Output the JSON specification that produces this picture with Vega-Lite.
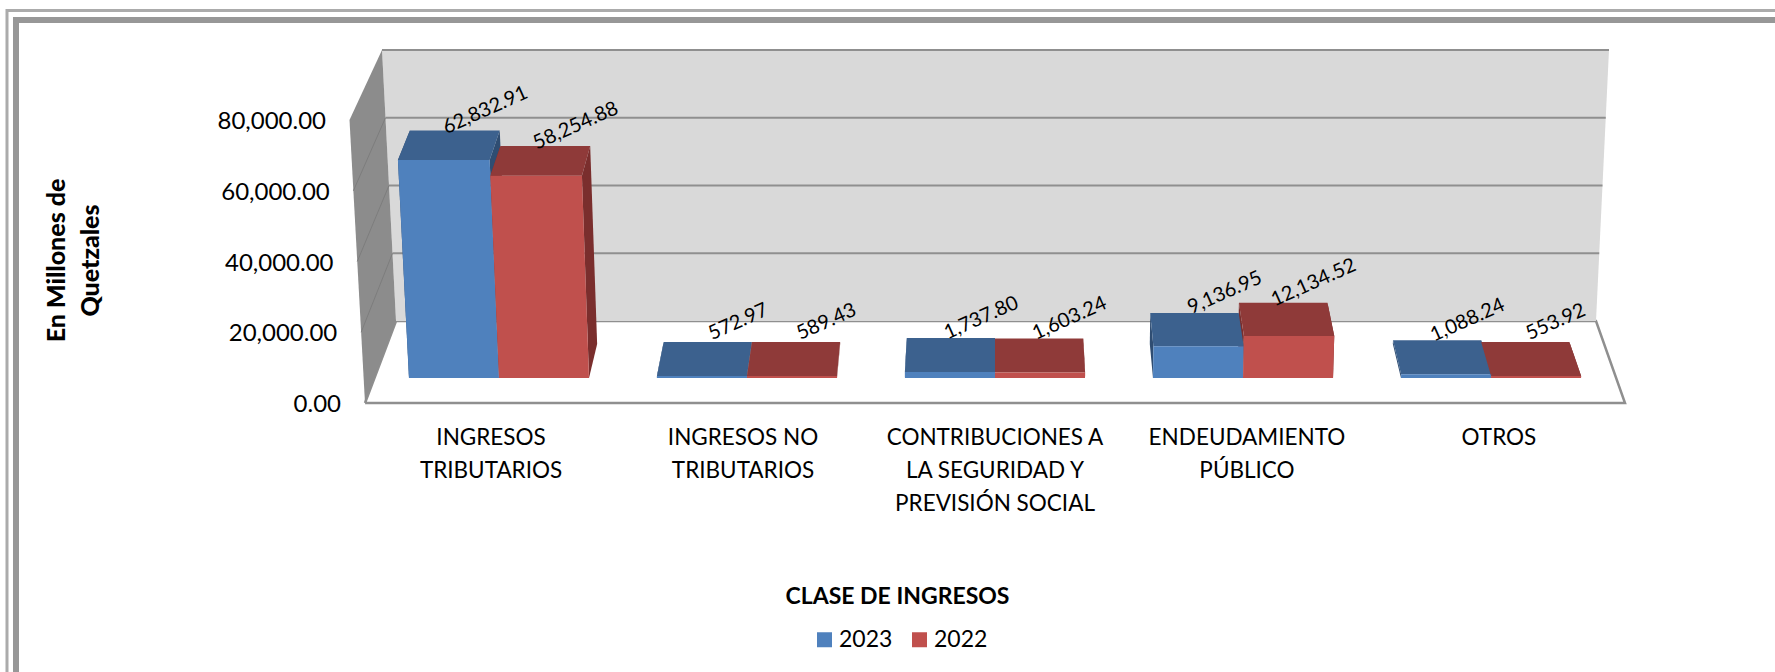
{
"$schema":"https://vega.github.io/schema/vega-lite/v6.json",
"width":1775,"height":672,"padding":0,"autosize":{"type":"none"},
"background":"#ffffff",
"view":{"stroke":null},
"datasets":{"ingresos":[
{"clase":"INGRESOS\nTRIBUTARIOS","orden":1,"serie":"2023","valor":62832.91},
{"clase":"INGRESOS\nTRIBUTARIOS","orden":1,"serie":"2022","valor":58254.88},
{"clase":"INGRESOS NO\nTRIBUTARIOS","orden":2,"serie":"2023","valor":572.97},
{"clase":"INGRESOS NO\nTRIBUTARIOS","orden":2,"serie":"2022","valor":589.43},
{"clase":"CONTRIBUCIONES A\nLA SEGURIDAD Y\nPREVISIÓN SOCIAL","orden":3,"serie":"2023","valor":1737.80},
{"clase":"CONTRIBUCIONES A\nLA SEGURIDAD Y\nPREVISIÓN SOCIAL","orden":3,"serie":"2022","valor":1603.24},
{"clase":"ENDEUDAMIENTO\nPÚBLICO","orden":4,"serie":"2023","valor":9136.95},
{"clase":"ENDEUDAMIENTO\nPÚBLICO","orden":4,"serie":"2022","valor":12134.52},
{"clase":"OTROS","orden":5,"serie":"2023","valor":1088.24},
{"clase":"OTROS","orden":5,"serie":"2022","valor":553.92}
]},
"encoding":{
"x":{"field":"xp","type":"quantitative","scale":{"domain":[0,4],"range":[499,1491],"nice":false,"zero":false},
"axis":{"title":"CLASE DE INGRESOS","labels":false,"ticks":false,"domain":false,"grid":false,"titleX":897,"titleY":-76,"titleFont":"Lato","titleFontSize":23,"titleFontWeight":"bold","titleColor":"#000000","titleBaseline":"middle"}},
"y":{"field":"yp","type":"quantitative","scale":{"domain":[0,80000],"range":[403,120],"nice":false,"zero":false},
"axis":{"values":[0,20000,40000,60000,80000],"labels":false,"offset":-347,"ticks":false,"domain":false,"grid":false,
"title":["En Millones de","Quetzales"],"titleX":-291,"titleY":260,"titleFont":"Lato","titleFontSize":25,"titleFontWeight":900,"titleColor":"#000000","titleLineHeight":34,"titleAlign":"center","titleAngle":270,"titleBaseline":"middle"}}
},
"layer":[
{"data":{"values":[{"marco":"exterior"}]},
"transform":[{"calculate":"-1.9839","as":"xp"},{"calculate":"110954","as":"yp"},{"calculate":"5.4","as":"xf"},{"calculate":"-83958","as":"yf"}],
"mark":{"type":"rect","filled":false,"stroke":"#ababab","strokeWidth":3},
"encoding":{"x2":{"field":"xf"},"y2":{"field":"yf"}}},
{"data":{"values":[{"marco":"interior"}]},
"transform":[{"calculate":"-1.9476","as":"xp"},{"calculate":"108269","as":"yp"},{"calculate":"5.4","as":"xf"},{"calculate":"-83958","as":"yf"}],
"mark":{"type":"rect","filled":false,"stroke":"#979797","strokeWidth":6},
"encoding":{"x2":{"field":"xf"},"y2":{"field":"yf"}}},
{"data":{"values":[{"parte":"piso"},{"parte":"pared"},{"parte":"lateral"}]},
"transform":[
{"calculate":"{piso:[[-0.5403,0,0],[4.5403,0,1],[4.4234,23180,2],[-0.4153,23180,3],[-0.5403,0,4]],pared:[[-0.4153,23180,0],[4.4234,23180,1],[4.4758,99788,2],[-0.4718,99788,3],[-0.4153,23180,4]],lateral:[[-0.5403,0,0],[-0.4153,23180,1],[-0.4718,99788,2],[-0.6028,80000,3],[-0.5403,0,4]]}[datum.parte]","as":"p"},
{"flatten":["p"]},
{"calculate":"datum.p[0]","as":"xp"},{"calculate":"datum.p[1]","as":"yp"},{"calculate":"datum.p[2]","as":"o"}],
"mark":{"type":"line","strokeWidth":2.5},
"encoding":{"fill":{"field":"parte","type":"nominal","scale":{"domain":["pared","lateral","piso"],"range":["#d9d9d9","#8c8c8c","#ffffff"]},"legend":null},
"stroke":{"field":"parte","type":"nominal","scale":{"domain":["pared","lateral","piso"],"range":["transparent","transparent","#8f8f8f"]},"legend":null},
"order":{"field":"o","type":"quantitative"}}},
{"data":{"values":[{"marca":20000},{"marca":40000},{"marca":60000},{"marca":80000}]},
"transform":[
{"calculate":"-0.4153-0.0565*datum.marca/80000","as":"xp"},
{"calculate":"23180+0.9576*datum.marca","as":"yp"},
{"calculate":"4.4234+0.0524*datum.marca/80000","as":"xf"}],
"mark":{"type":"rule","stroke":"#8f8f8f","strokeWidth":2},
"encoding":{"x2":{"field":"xf"}}},
{"data":{"values":[{"marca":20000},{"marca":40000},{"marca":60000}]},
"transform":[
{"calculate":"-0.5403-0.0625*datum.marca/80000","as":"xp"},
{"calculate":"datum.marca","as":"yp"},
{"calculate":"-0.4153-0.0565*datum.marca/80000","as":"xf"},
{"calculate":"23180+0.9576*datum.marca","as":"yf"}],
"mark":{"type":"rule","stroke":"#7d7d7d","strokeWidth":1},
"encoding":{"x2":{"field":"xf"},"y2":{"field":"yf"}}},
{"data":{"values":[{"marca":0},{"marca":20000},{"marca":40000},{"marca":60000},{"marca":80000}]},
"transform":[
{"calculate":"-0.637-0.0605*datum.marca/80000","as":"xp"},
{"calculate":"datum.marca","as":"yp"}],
"mark":{"type":"text","font":"Lato","fontSize":24,"color":"#000000","align":"right","baseline":"middle","dy":2},
"encoding":{"text":{"field":"marca","type":"quantitative","format":",.2f"}}},
{"data":{"name":"ingresos"},
"transform":[
{"calculate":"[[0,0,0,0,0],[0,1,0,1,0],[0,1,1,2,0],[0,0,1,3,0],[0,0,0,4,0],[1,0,0,0,1],[1,1,0,1,1],[1,1,1,2,1],[1,0,1,3,1],[1,0,0,4,1]]","as":"p"},
{"flatten":["p"]},
{"calculate":"datum.p[3]","as":"o"},{"calculate":"datum.p[4]","as":"lado"},
{"calculate":"datum.orden-1+((datum.serie=='2023'?-1:0)+datum.p[0])*0.363","as":"u"},
{"calculate":"datum.p[1]*datum.valor","as":"h"},
{"calculate":"2+(datum.u-2)*(1+3e-7*datum.h)*(1-0.02*datum.p[2])","as":"xp"},
{"calculate":"7067+9611*datum.p[2]+datum.h*(0.981-0.02*datum.p[2])","as":"yp"}],
"mark":{"type":"line","strokeWidth":0},
"encoding":{"fill":{"field":"serie","type":"nominal","scale":{"domain":["2023","2022"],"range":["#2f4d72","#7a2e2d"]},"legend":null},
"detail":[{"field":"orden"},{"field":"lado"}],
"order":{"field":"o","type":"quantitative"}}},
{"data":{"name":"ingresos"},
"transform":[
{"calculate":"[[0,1,0,0],[1,1,0,1],[1,1,1,2],[0,1,1,3],[0,1,0,4]]","as":"p"},
{"flatten":["p"]},
{"calculate":"datum.p[3]","as":"o"},
{"calculate":"datum.orden-1+((datum.serie=='2023'?-1:0)+datum.p[0])*0.363","as":"u"},
{"calculate":"datum.p[1]*datum.valor","as":"h"},
{"calculate":"2+(datum.u-2)*(1+3e-7*datum.h)*(1-0.02*datum.p[2])","as":"xp"},
{"calculate":"7067+9611*datum.p[2]+datum.h*(0.981-0.02*datum.p[2])","as":"yp"}],
"mark":{"type":"line","strokeWidth":0},
"encoding":{"fill":{"field":"serie","type":"nominal","scale":{"domain":["2023","2022"],"range":["#3c618e","#8f3a39"]},"legend":null},
"detail":{"field":"orden"},
"order":{"field":"o","type":"quantitative"}}},
{"data":{"name":"ingresos"},
"transform":[
{"calculate":"[[0,0,0,0],[1,0,0,1],[1,1,0,2],[0,1,0,3],[0,0,0,4]]","as":"p"},
{"flatten":["p"]},
{"calculate":"datum.p[3]","as":"o"},
{"calculate":"datum.orden-1+((datum.serie=='2023'?-1:0)+datum.p[0])*0.363","as":"u"},
{"calculate":"datum.p[1]*datum.valor","as":"h"},
{"calculate":"2+(datum.u-2)*(1+3e-7*datum.h)*(1-0.02*datum.p[2])","as":"xp"},
{"calculate":"7067+9611*datum.p[2]+datum.h*(0.981-0.02*datum.p[2])","as":"yp"}],
"mark":{"type":"line","strokeWidth":0},
"encoding":{"fill":{"field":"serie","type":"nominal","title":null,"scale":{"domain":["2023","2022"],"range":["#4f81bd","#c0504d"]},
"legend":{"orient":"none","legendX":813,"legendY":628,"direction":"horizontal","symbolType":"square","symbolSize":225,"symbolStrokeWidth":0,"labelFont":"Lato","labelFontSize":23,"labelColor":"#000000","labelOffset":3,"columnPadding":15}},
"detail":{"field":"orden"},
"order":{"field":"o","type":"quantitative"}}},
{"data":{"name":"ingresos"},
"transform":[
{"calculate":"datum.orden-1+((datum.serie=='2023'?-1:0)+0.5)*0.363","as":"u"},
{"calculate":"2+(datum.u-2)*(1+3e-7*datum.valor)*0.98","as":"xp"},
{"calculate":"16678+datum.valor*0.961","as":"yp"}],
"mark":{"type":"text","font":"Lato","fontSize":20,"color":"#000000","angle":336,"align":"center","baseline":"middle","dx":36,"dy":-6},
"encoding":{"text":{"field":"valor","type":"quantitative","format":",.2f"}}},
{"data":{"name":"ingresos"},
"transform":[{"filter":"datum.serie=='2023'"},
{"calculate":"2+(datum.orden-3)*1.016","as":"xp"},
{"calculate":"-9890","as":"yp"}],
"mark":{"type":"text","font":"Lato","fontSize":22.5,"color":"#000000","align":"center","baseline":"middle","lineBreak":"\n","lineHeight":33},
"encoding":{"text":{"field":"clase","type":"nominal"}}}
],
"resolve":{"scale":{"fill":"independent","stroke":"independent"}}
}
